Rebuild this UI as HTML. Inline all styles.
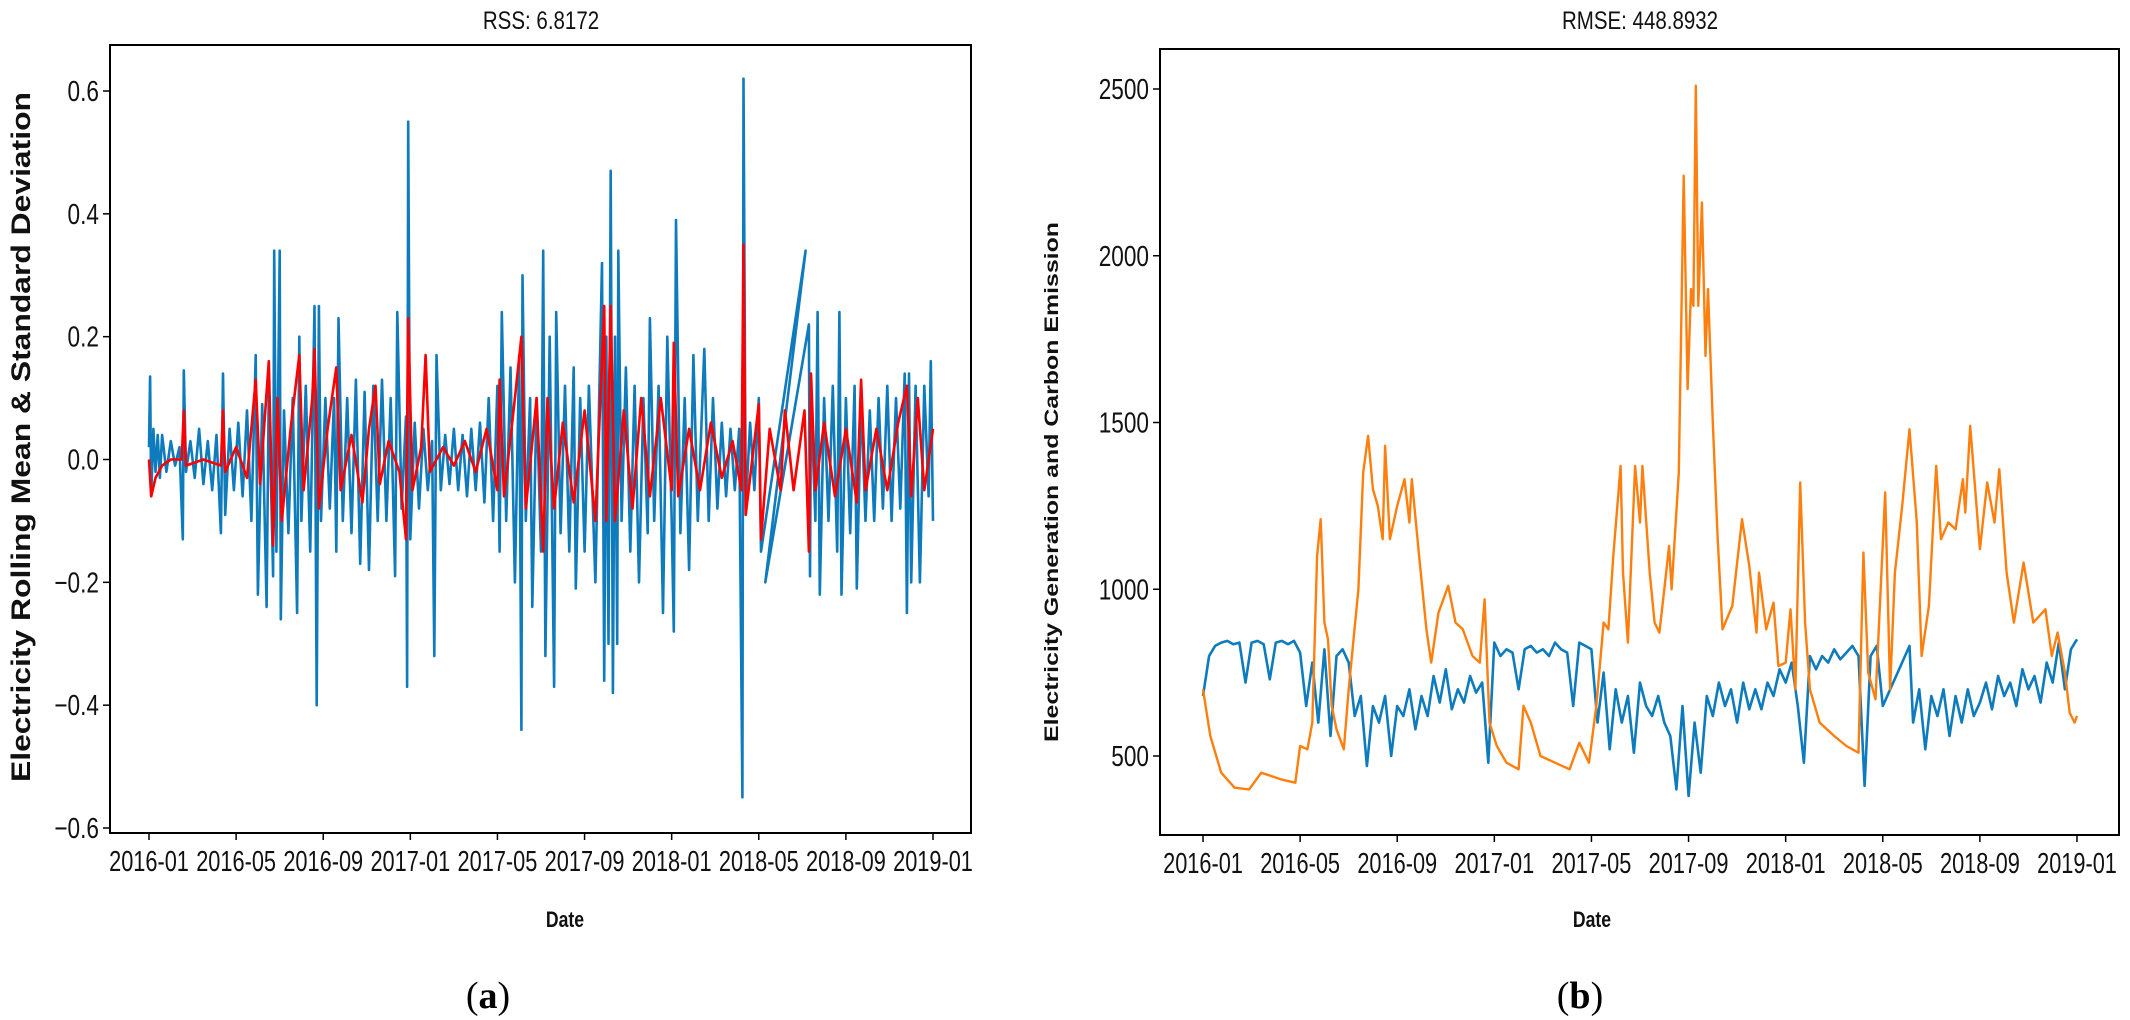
<!DOCTYPE html>
<html><head><meta charset="utf-8"><style>
html,body{margin:0;padding:0;background:#fff;}
svg{display:block;}
</style></head><body>
<svg id="fig" width="2130" height="1020" viewBox="0 0 2130 1020" xmlns="http://www.w3.org/2000/svg">
<g id="left"></g>
<g id="right"></g>
</svg>
<script>
// ---- Panel (a) data: [month since 2016-01, value] ----
const xTickLabels = ["2016-01","2016-05","2016-09","2017-01","2017-05","2017-09","2018-01","2018-05","2018-09","2019-01"];
const xTickMonths = [0,4,8,12,16,20,24,28,32,36];
const leftYTicks = [-0.6,-0.4,-0.2,0.0,0.2,0.4,0.6];
const leftYLabels = ["\u22120.6","\u22120.4","\u22120.2","0.0","0.2","0.4","0.6"];
const rollingBlue = [[0,0.02],[0.05,0.135],[0.1,-0.06],[0.2,0.05],[0.3,-0.02],[0.4,0.04],[0.5,-0.03],[0.6,0.04],[0.8,-0.02],[1,0.03],[1.2,-0.01],[1.4,0.02],[1.55,-0.13],[1.6,0.145],[1.7,-0.02],[1.9,0.03],[2.1,-0.03],[2.3,0.05],[2.5,-0.04],[2.7,0.03],[2.9,-0.05],[3.1,0.04],[3.3,-0.12],[3.4,0.14],[3.5,-0.09],[3.7,0.05],[3.9,-0.05],[4.1,0.06],[4.3,-0.06],[4.5,0.08],[4.7,-0.1],[4.9,0.17],[5.0,-0.22],[5.2,0.09],[5.4,-0.24],[5.5,0.12],[5.7,-0.19],[5.75,0.34],[5.85,-0.15],[6.0,0.34],[6.05,-0.26],[6.2,0.08],[6.4,-0.12],[6.6,0.1],[6.8,-0.25],[6.9,0.2],[7.0,-0.1],[7.2,0.12],[7.4,-0.15],[7.6,0.25],[7.7,-0.4],[7.8,0.25],[7.9,-0.1],[8.1,0.1],[8.3,-0.08],[8.5,0.1],[8.6,-0.15],[8.7,0.23],[8.9,-0.1],[9.1,0.1],[9.3,-0.12],[9.5,0.13],[9.7,-0.17],[9.9,0.11],[10.1,-0.18],[10.3,0.12],[10.5,-0.1],[10.7,0.13],[10.9,-0.1],[11.1,0.1],[11.3,-0.19],[11.4,0.24],[11.6,-0.08],[11.8,0.07],[11.85,-0.37],[11.9,0.55],[12.0,-0.13],[12.2,0.06],[12.4,-0.08],[12.6,0.05],[12.8,-0.05],[13.0,0.03],[13.1,-0.32],[13.2,0.17],[13.4,-0.05],[13.6,0.04],[13.8,-0.04],[14.0,0.05],[14.2,-0.05],[14.4,0.04],[14.6,-0.06],[14.8,0.05],[15.0,-0.05],[15.2,0.06],[15.4,-0.07],[15.6,0.1],[15.8,-0.1],[16.0,0.12],[16.1,-0.15],[16.2,0.24],[16.4,-0.1],[16.6,0.15],[16.8,-0.2],[17.0,0.17],[17.1,-0.44],[17.15,0.3],[17.3,-0.1],[17.5,0.1],[17.6,-0.24],[17.8,0.1],[18.0,-0.15],[18.1,0.34],[18.2,-0.32],[18.4,0.2],[18.6,-0.37],[18.7,0.24],[18.9,-0.12],[19.1,0.12],[19.3,-0.15],[19.5,0.15],[19.6,-0.21],[19.8,0.1],[20.0,-0.15],[20.2,0.12],[20.5,-0.2],[20.8,0.32],[20.9,-0.36],[21.0,0.2],[21.1,-0.3],[21.2,0.47],[21.3,-0.38],[21.4,0.2],[21.5,-0.3],[21.55,0.34],[21.7,-0.1],[21.9,0.15],[22.1,-0.15],[22.3,0.12],[22.5,-0.2],[22.7,0.1],[22.9,-0.12],[23.0,0.23],[23.2,-0.1],[23.4,0.12],[23.6,-0.25],[23.8,0.2],[24.0,-0.1],[24.1,-0.28],[24.2,0.39],[24.4,-0.12],[24.6,0.1],[24.8,-0.18],[25.0,0.17],[25.2,-0.1],[25.5,0.18],[25.7,-0.1],[25.9,0.1],[26.1,-0.08],[26.3,0.06],[26.5,-0.06],[26.7,0.05],[26.9,-0.05],[27.1,0.05],[27.25,-0.55],[27.3,0.62],[27.4,-0.08],[27.6,0.06],[27.8,-0.05],[28.0,0.1],[28.1,-0.15],[30.15,0.34],[28.3,-0.2],[30.3,0.22],[30.35,-0.19],[30.4,0.1],[30.6,-0.1],[30.7,0.24],[30.8,-0.22],[31.0,0.1],[31.2,-0.1],[31.4,0.12],[31.6,-0.15],[31.7,0.24],[31.8,-0.22],[32.0,0.1],[32.2,-0.12],[32.4,0.12],[32.5,-0.21],[32.7,0.1],[32.9,-0.1],[33.1,0.08],[33.3,-0.1],[33.5,0.1],[33.7,-0.08],[33.9,0.12],[34.1,-0.1],[34.3,0.1],[34.5,-0.08],[34.7,0.14],[34.8,-0.25],[34.9,0.14],[35.0,-0.2],[35.2,0.12],[35.4,-0.2],[35.6,0.12],[35.8,-0.06],[35.9,0.16],[36,-0.1]];
const rollingRed = [[0,0],[0.1,-0.06],[0.3,-0.03],[0.6,-0.01],[1,0],[1.5,0],[1.6,0.08],[1.7,-0.01],[2.5,0],[3.3,-0.01],[3.4,0.08],[3.5,-0.02],[4,0.02],[4.5,-0.03],[4.9,0.13],[5.1,-0.04],[5.5,0.16],[5.7,-0.14],[5.9,0.1],[6.1,-0.1],[6.5,0.05],[6.9,0.17],[7.1,-0.05],[7.5,0.1],[7.6,0.18],[7.8,-0.08],[8.2,0.05],[8.6,0.15],[8.8,-0.05],[9.3,0.04],[9.8,-0.07],[10.1,0.05],[10.4,0.12],[10.6,-0.04],[11.0,0.03],[11.5,-0.02],[11.8,-0.13],[11.9,0.23],[12.1,-0.05],[12.5,0.02],[12.7,0.17],[12.9,-0.02],[13.5,0.02],[14,-0.01],[14.5,0.03],[15,-0.02],[15.5,0.05],[16.0,-0.05],[16.1,0.13],[16.3,-0.06],[16.8,0.1],[17.1,0.2],[17.3,-0.08],[17.8,0.1],[18.1,-0.15],[18.3,0.1],[18.6,-0.08],[19,0.06],[19.5,-0.07],[20,0.08],[20.5,-0.1],[20.9,0.25],[21.0,-0.1],[21.2,0.25],[21.4,-0.1],[21.8,0.08],[22.2,-0.08],[22.6,0.1],[23,-0.06],[23.5,0.1],[24,-0.05],[24.1,0.19],[24.3,-0.06],[24.8,0.05],[25.3,-0.05],[25.8,0.06],[26.3,-0.03],[26.8,0.03],[27.2,-0.05],[27.3,0.35],[27.4,-0.09],[28,0.09],[28.1,-0.13],[28.5,0.05],[29,-0.05],[29.2,0.08],[29.6,-0.05],[30.1,0.08],[30.3,-0.15],[30.4,0.14],[30.6,-0.05],[31,0.06],[31.5,-0.06],[32,0.05],[32.5,-0.07],[32.7,0.13],[32.9,-0.05],[33.4,0.05],[33.9,-0.05],[34.4,0.06],[34.8,0.12],[35,-0.06],[35.3,0.1],[35.6,-0.05],[36,0.05]];

// ---- Panel (b) data ----
const rightYTicks = [500,1000,1500,2000,2500];
const rightYLabels = ["500","1000","1500","2000","2500"];
const generation = [[0,680],[0.25,800],[0.5,830],[0.75,840],[1,845],[1.25,835],[1.5,840],[1.75,720],[2,840],[2.25,845],[2.5,835],[2.75,730],[3,840],[3.25,845],[3.5,835],[3.75,845],[4,810],[4.25,650],[4.5,780],[4.75,600],[5,820],[5.25,560],[5.5,800],[5.75,820],[6,780],[6.25,620],[6.5,680],[6.75,470],[7,650],[7.25,600],[7.5,680],[7.75,500],[8,650],[8.25,620],[8.5,700],[8.75,580],[9,680],[9.25,620],[9.5,740],[9.75,660],[10,760],[10.25,640],[10.5,700],[10.75,660],[11,740],[11.25,690],[11.5,720],[11.75,480],[12,840],[12.25,800],[12.5,820],[12.75,810],[13,700],[13.25,820],[13.5,830],[13.75,810],[14,820],[14.25,800],[14.5,840],[14.75,820],[15,810],[15.25,650],[15.5,840],[15.75,830],[16,820],[16.25,600],[16.5,750],[16.75,520],[17,700],[17.25,600],[17.5,680],[17.75,510],[18,720],[18.25,650],[18.5,620],[18.75,680],[19,600],[19.25,560],[19.5,400],[19.75,650],[20,380],[20.25,600],[20.5,450],[20.75,680],[21,620],[21.25,720],[21.5,650],[21.75,700],[22,600],[22.25,720],[22.5,640],[22.75,700],[23,640],[23.25,720],[23.5,680],[23.75,760],[24,720],[24.25,780],[24.5,650],[24.75,480],[25,800],[25.25,760],[25.5,800],[25.75,780],[26,820],[26.25,790],[26.5,810],[26.75,830],[27,800],[27.25,410],[27.5,800],[27.75,830],[28,650],[29.1,830],[29.25,600],[29.5,700],[29.75,520],[30,680],[30.25,620],[30.5,700],[30.75,560],[31,680],[31.25,600],[31.5,700],[31.75,620],[32,660],[32.25,720],[32.5,640],[32.75,740],[33,680],[33.25,720],[33.5,650],[33.75,760],[34,700],[34.25,740],[34.5,660],[34.75,780],[35,720],[35.25,840],[35.5,700],[35.75,820],[36,850]];
const emission = [[0,700],[0.3,560],[0.75,450],[1.3,405],[1.9,400],[2.4,450],[3.2,430],[3.8,420],[4.0,530],[4.3,520],[4.5,600],[4.7,1100],[4.85,1210],[5.0,900],[5.15,850],[5.3,650],[5.5,580],[5.8,520],[6.0,700],[6.4,1000],[6.6,1350],[6.8,1460],[7.0,1300],[7.2,1250],[7.4,1150],[7.5,1430],[7.7,1150],[8.0,1250],[8.3,1330],[8.5,1200],[8.6,1330],[8.9,1100],[9.2,880],[9.4,780],[9.7,930],[10.1,1010],[10.4,900],[10.7,880],[11.1,800],[11.4,780],[11.6,970],[11.8,600],[12.1,530],[12.5,480],[13.0,460],[13.2,650],[13.5,600],[13.9,500],[14.5,480],[15.1,460],[15.5,540],[15.9,480],[16.2,650],[16.5,900],[16.7,880],[16.9,1100],[17.2,1370],[17.3,1050],[17.5,840],[17.8,1370],[18.0,1200],[18.1,1370],[18.4,1050],[18.6,900],[18.8,870],[19.0,1000],[19.2,1130],[19.3,1000],[19.6,1350],[19.8,2240],[19.96,1600],[20.1,1900],[20.2,1850],[20.3,2510],[20.4,1850],[20.55,2160],[20.7,1700],[20.8,1900],[21.0,1500],[21.2,1150],[21.4,880],[21.8,950],[22.2,1210],[22.5,1070],[22.8,870],[22.9,1050],[23.2,880],[23.5,960],[23.7,770],[24.0,780],[24.2,940],[24.4,700],[24.6,1320],[24.8,900],[25.0,700],[25.4,600],[26.0,560],[26.5,530],[27.0,510],[27.2,1110],[27.4,750],[27.7,670],[28.1,1290],[28.3,700],[28.5,1050],[28.8,1250],[29.1,1480],[29.4,1200],[29.6,800],[29.9,950],[30.2,1370],[30.4,1150],[30.7,1200],[31.0,1180],[31.3,1330],[31.4,1230],[31.6,1490],[32.0,1120],[32.3,1320],[32.6,1200],[32.8,1360],[33.1,1050],[33.4,900],[33.8,1080],[34.2,900],[34.7,940],[34.96,800],[35.2,870],[35.5,750],[35.7,630],[35.9,600],[36,620]];

const NS = "http://www.w3.org/2000/svg";
function mk(parent, tag, attrs, text){
  const e = document.createElementNS(NS, tag);
  for (const k in attrs) e.setAttribute(k, attrs[k]);
  if (text !== undefined) e.textContent = text;
  parent.appendChild(e);
  return e;
}
const TICKFONT = "'Liberation Sans Narrow','Liberation Sans',sans-serif";

function drawPanel(g, cfg){
  const xS = m => cfg.x0 + (m - 0) * (cfg.x36 - cfg.x0) / 36;
  const yS = v => cfg.yA + (v - cfg.vA) * (cfg.yB - cfg.yA) / (cfg.vB - cfg.vA);
  cfg.series.forEach(s => {
    const d = s.data.map((p,i) => (i ? "L" : "M") + xS(p[0]).toFixed(1) + " " + yS(p[1]).toFixed(1)).join("");
    const path = mk(g, "path", {d: d, fill: "none", stroke: s.color, "stroke-width": s.w, "stroke-linejoin": "round"});
    
    
  });
  const frame = mk(g, "rect", {x: cfg.L, y: cfg.T, width: cfg.R - cfg.L, height: cfg.B - cfg.T, fill: "none", stroke: "#000", "stroke-width": 2});
  
  
  xTickMonths.forEach((m, i) => {
    const x = xS(m);
    const t = mk(g, "line", {x1: x, x2: x, y1: cfg.B, y2: cfg.B + 7, stroke: "#000", "stroke-width": 1.5});
    
    
    const lb = mk(g, "text", {transform: `translate(${x},${cfg.B + 38}) scale(0.75,1)`, "text-anchor": "middle", "font-family": TICKFONT, "font-size": 29, fill: "#111"}, xTickLabels[i]);
    
    
  });
  cfg.yTicks.forEach((v, i) => {
    const y = yS(v);
    const t = mk(g, "line", {x1: cfg.L - 7, x2: cfg.L, y1: y, y2: y, stroke: "#000", "stroke-width": 1.5});
    
    
    const lb = mk(g, "text", {transform: `translate(${cfg.L - 11},${y + 10}) scale(0.78,1)`, "text-anchor": "end", "font-family": TICKFONT, "font-size": 29, fill: "#111"}, cfg.yLabels[i]);
    
    
  });
  const ti = mk(g, "text", {transform: `translate(${cfg.titleX},29) scale(0.82,1)`, "text-anchor": "middle", "font-family": TICKFONT, "font-size": 25, fill: "#111"}, cfg.title);
  
  
  const xt = mk(g, "text", {transform: `translate(${cfg.dateX},927) scale(0.8,1)`, "text-anchor": "middle", "font-family": TICKFONT, "font-weight": "bold", "font-size": 22, fill: "#111"}, "Date");
  
  
  const yt = mk(g, "text", {transform: `translate(${cfg.ytX},${cfg.ytY}) rotate(-90)`, "text-anchor": "middle", "font-family": "'Liberation Sans',sans-serif", "font-weight": "bold", "font-size": cfg.ytSize, textLength: cfg.ytLen, lengthAdjust: "spacingAndGlyphs", fill: "#111"}, cfg.yTitle);
  
  
  const cap = mk(g, "text", {x: cfg.capX, y: 1008, "text-anchor": "middle", "font-family": "'Liberation Serif',serif", "font-size": 38, fill: "#000"});
  
  
  mk(cap, "tspan", {}, "(");
  mk(cap, "tspan", {"font-weight": "bold"}, cfg.cap);
  mk(cap, "tspan", {}, ")");
}

drawPanel(document.getElementById("left"), {
  L:110, R:971, T:45, B:833, x0:149, x36:933,
  vA:0.6, yA:91, vB:-0.6, yB:828,
  yTicks:leftYTicks, yLabels:leftYLabels,
  series:[{data:rollingBlue,color:"#0e7bbd",w:2.6,name:"rolling-std-line"},{data:rollingRed,color:"#ff0000",w:2.6,name:"rolling-mean-line"}],
  title:"RSS: 6.8172", titleX:541, dateX:565,
  yTitle:"Electricity Rolling Mean & Standard Deviation", ytX:30, ytY:437, ytSize:27, ytLen:690,
  cap:"a", capX:488
});
drawPanel(document.getElementById("right"), {
  L:1160, R:2119, T:49, B:835, x0:1203, x36:2077,
  vA:2500, yA:89, vB:500, yB:756,
  yTicks:rightYTicks, yLabels:rightYLabels,
  series:[{data:generation,color:"#0e7bbd",w:2.6,name:"generation-line"},{data:emission,color:"#ff7f0e",w:2.4,name:"emission-line"}],
  title:"RMSE: 448.8932", titleX:1640, dateX:1592,
  yTitle:"Electricity Generation and Carbon Emission", ytX:1058, ytY:482, ytSize:19, ytLen:520,
  cap:"b", capX:1580
});
</script>
</body></html>
